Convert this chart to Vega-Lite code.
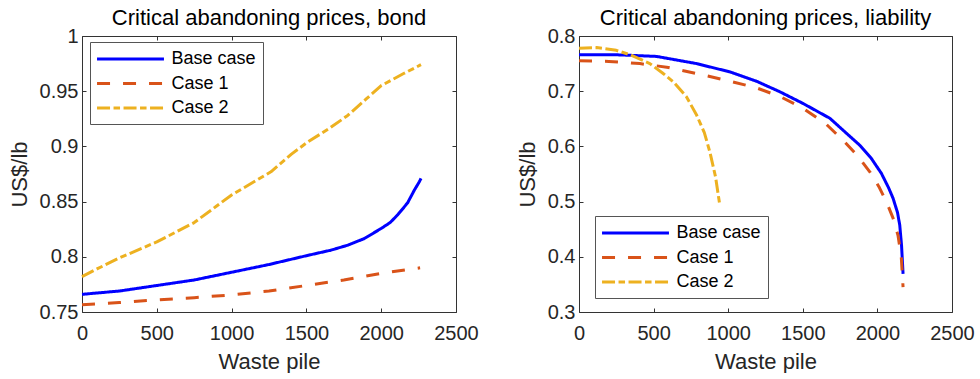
{
  "$schema": "https://vega.github.io/schema/vega-lite/v6.json",
  "padding": {"left": 7, "top": 6, "right": 5, "bottom": 0},
  "spacing": 36,
  "config": {
    "font": "Liberation Sans",
    "view": {"stroke": "#333333", "strokeWidth": 1},
    "title": {"font": "Liberation Sans", "fontSize": 22, "fontWeight": "normal", "color": "#000000", "anchor": "middle", "frame": "group", "offset": -4},
    "axis": {"grid": false, "domain": false, "tickSize": -4, "tickColor": "#333333", "tickWidth": 1, "labelFont": "Liberation Sans", "labelFontSize": 20, "labelColor": "#262626", "titleFont": "Liberation Sans", "titleFontSize": 22, "titleFontWeight": "normal", "titleColor": "#262626", "labelFlush": false, "labelOverlap": false},
    "legend": {"orient": "none", "title": null, "strokeColor": "#555555", "fillColor": "#ffffff", "padding": 7, "labelFont": "Liberation Sans", "labelFontSize": 18, "labelColor": "#000000", "symbolType": "M-4,0H4", "symbolSize": 280, "symbolStrokeWidth": 3, "symbolOffset": 23.5, "labelOffset": 31, "rowPadding": 5.5}
  },
  "resolve": {"scale": {"color": "independent", "strokeDash": "independent"}},
  "datasets": {
    "bond": [
      {"x": 0, "p": 0.766, "series": "Base case"},
      {"x": 250, "p": 0.769, "series": "Base case"},
      {"x": 500, "p": 0.774, "series": "Base case"},
      {"x": 750, "p": 0.779, "series": "Base case"},
      {"x": 1000, "p": 0.786, "series": "Base case"},
      {"x": 1250, "p": 0.793, "series": "Base case"},
      {"x": 1500, "p": 0.801, "series": "Base case"},
      {"x": 1664, "p": 0.806, "series": "Base case"},
      {"x": 1776, "p": 0.8105, "series": "Base case"},
      {"x": 1887, "p": 0.8165, "series": "Base case"},
      {"x": 1999, "p": 0.8256, "series": "Base case"},
      {"x": 2060, "p": 0.831, "series": "Base case"},
      {"x": 2110, "p": 0.838, "series": "Base case"},
      {"x": 2150, "p": 0.8445, "series": "Base case"},
      {"x": 2177, "p": 0.849, "series": "Base case"},
      {"x": 2220, "p": 0.86, "series": "Base case"},
      {"x": 2255, "p": 0.868, "series": "Base case"},
      {"x": 2266, "p": 0.871, "series": "Base case"},
      {"x": 0, "p": 0.7566, "series": "Case 1"},
      {"x": 250, "p": 0.7585, "series": "Case 1"},
      {"x": 500, "p": 0.761, "series": "Case 1"},
      {"x": 750, "p": 0.763, "series": "Case 1"},
      {"x": 1000, "p": 0.7655, "series": "Case 1"},
      {"x": 1250, "p": 0.769, "series": "Case 1"},
      {"x": 1500, "p": 0.774, "series": "Case 1"},
      {"x": 1750, "p": 0.779, "series": "Case 1"},
      {"x": 2000, "p": 0.785, "series": "Case 1"},
      {"x": 2260, "p": 0.79, "series": "Case 1"},
      {"x": 0, "p": 0.782, "series": "Case 2"},
      {"x": 100, "p": 0.789, "series": "Case 2"},
      {"x": 250, "p": 0.799, "series": "Case 2"},
      {"x": 500, "p": 0.8135, "series": "Case 2"},
      {"x": 750, "p": 0.831, "series": "Case 2"},
      {"x": 900, "p": 0.846, "series": "Case 2"},
      {"x": 1000, "p": 0.856, "series": "Case 2"},
      {"x": 1263, "p": 0.877, "series": "Case 2"},
      {"x": 1400, "p": 0.893, "series": "Case 2"},
      {"x": 1509, "p": 0.904, "series": "Case 2"},
      {"x": 1650, "p": 0.916, "series": "Case 2"},
      {"x": 1776, "p": 0.928, "series": "Case 2"},
      {"x": 1900, "p": 0.943, "series": "Case 2"},
      {"x": 2000, "p": 0.955, "series": "Case 2"},
      {"x": 2150, "p": 0.966, "series": "Case 2"},
      {"x": 2266, "p": 0.974, "series": "Case 2"}
    ],
    "liability": [
      {"x": 0, "p": 0.766, "series": "Base case"},
      {"x": 250, "p": 0.766, "series": "Base case"},
      {"x": 520, "p": 0.763, "series": "Base case"},
      {"x": 788, "p": 0.75, "series": "Base case"},
      {"x": 1011, "p": 0.735, "series": "Base case"},
      {"x": 1190, "p": 0.718, "series": "Base case"},
      {"x": 1346, "p": 0.699, "series": "Base case"},
      {"x": 1500, "p": 0.678, "series": "Base case"},
      {"x": 1681, "p": 0.651, "series": "Base case"},
      {"x": 1800, "p": 0.622, "series": "Base case"},
      {"x": 1882, "p": 0.602, "series": "Base case"},
      {"x": 1960, "p": 0.578, "series": "Base case"},
      {"x": 2027, "p": 0.551, "series": "Base case"},
      {"x": 2075, "p": 0.525, "series": "Base case"},
      {"x": 2105, "p": 0.506, "series": "Base case"},
      {"x": 2135, "p": 0.48, "series": "Base case"},
      {"x": 2150, "p": 0.457, "series": "Base case"},
      {"x": 2162, "p": 0.42, "series": "Base case"},
      {"x": 2172, "p": 0.369, "series": "Base case"},
      {"x": 0, "p": 0.755, "series": "Case 1"},
      {"x": 200, "p": 0.754, "series": "Case 1"},
      {"x": 408, "p": 0.75, "series": "Case 1"},
      {"x": 600, "p": 0.743, "series": "Case 1"},
      {"x": 788, "p": 0.732, "series": "Case 1"},
      {"x": 1000, "p": 0.719, "series": "Case 1"},
      {"x": 1190, "p": 0.706, "series": "Case 1"},
      {"x": 1350, "p": 0.69, "series": "Case 1"},
      {"x": 1502, "p": 0.669, "series": "Case 1"},
      {"x": 1650, "p": 0.642, "series": "Case 1"},
      {"x": 1770, "p": 0.611, "series": "Case 1"},
      {"x": 1870, "p": 0.582, "series": "Case 1"},
      {"x": 1949, "p": 0.554, "series": "Case 1"},
      {"x": 2010, "p": 0.527, "series": "Case 1"},
      {"x": 2060, "p": 0.5, "series": "Case 1"},
      {"x": 2105, "p": 0.47, "series": "Case 1"},
      {"x": 2138, "p": 0.439, "series": "Case 1"},
      {"x": 2160, "p": 0.4, "series": "Case 1"},
      {"x": 2172, "p": 0.345, "series": "Case 1"},
      {"x": 0, "p": 0.778, "series": "Case 2"},
      {"x": 118, "p": 0.779, "series": "Case 2"},
      {"x": 250, "p": 0.774, "series": "Case 2"},
      {"x": 342, "p": 0.766, "series": "Case 2"},
      {"x": 475, "p": 0.75, "series": "Case 2"},
      {"x": 560, "p": 0.733, "series": "Case 2"},
      {"x": 632, "p": 0.717, "series": "Case 2"},
      {"x": 720, "p": 0.69, "series": "Case 2"},
      {"x": 788, "p": 0.657, "series": "Case 2"},
      {"x": 840, "p": 0.625, "series": "Case 2"},
      {"x": 877, "p": 0.59, "series": "Case 2"},
      {"x": 915, "p": 0.545, "series": "Case 2"},
      {"x": 944, "p": 0.493, "series": "Case 2"}
    ]
  },
  "hconcat": [
    {
      "width": 374,
      "height": 276,
      "title": "Critical abandoning prices, bond",
      "data": {"name": "bond"},
      "resolve": {"scale": {"x": "independent", "y": "independent"}},
      "layer": [
        {
          "mark": {"type": "line", "strokeWidth": 3, "strokeCap": "butt", "strokeJoin": "round"},
          "encoding": {
            "x": {"field": "x", "type": "quantitative", "title": "Waste pile", "scale": {"domain": [0, 2500], "nice": false}, "axis": {"values": [0, 500, 1000, 1500, 2000, 2500], "format": "d", "labelPadding": 15, "titlePadding": 8}},
            "y": {"field": "p", "type": "quantitative", "title": "US$/lb", "scale": {"domain": [0.75, 1], "nice": false, "zero": false}, "axis": {"values": [0.75, 0.8, 0.85, 0.9, 0.95, 1], "format": "~g", "labelPadding": 8, "titlePadding": 8}},
            "color": {"field": "series", "type": "nominal", "scale": {"domain": ["Base case", "Case 1", "Case 2"], "range": ["#0000FF", "#D95319", "#EDB120"]}, "legend": {"legendX": 8, "legendY": 6}},
            "strokeDash": {"field": "series", "type": "nominal", "scale": {"domain": ["Base case", "Case 1", "Case 2"], "range": [[1, 0], [13, 13], [13, 3.5, 6.5, 3.5]]}, "legend": {"legendX": 8, "legendY": 6}}
          }
        },
        {
          "mark": {"type": "line", "strokeOpacity": 0},
          "encoding": {
            "x": {"field": "x", "type": "quantitative", "scale": {"domain": [0, 2500], "nice": false}, "axis": {"orient": "top", "values": [0, 500, 1000, 1500, 2000, 2500], "labels": false, "title": null}},
            "y": {"field": "p", "type": "quantitative", "scale": {"domain": [0.75, 1], "nice": false, "zero": false}, "axis": {"orient": "right", "values": [0.75, 0.8, 0.85, 0.9, 0.95, 1], "labels": false, "title": null}},
            "detail": {"field": "series"}
          }
        }
      ]
    },
    {
      "width": 373,
      "height": 276,
      "title": "Critical abandoning prices, liability",
      "data": {"name": "liability"},
      "resolve": {"scale": {"x": "independent", "y": "independent"}},
      "layer": [
        {
          "mark": {"type": "line", "strokeWidth": 3, "strokeCap": "butt", "strokeJoin": "round"},
          "encoding": {
            "x": {"field": "x", "type": "quantitative", "title": "Waste pile", "scale": {"domain": [0, 2500], "nice": false}, "axis": {"values": [0, 500, 1000, 1500, 2000, 2500], "format": "d", "labelPadding": 15, "titlePadding": 8}},
            "y": {"field": "p", "type": "quantitative", "title": "US$/lb", "scale": {"domain": [0.3, 0.8], "nice": false, "zero": false}, "axis": {"values": [0.3, 0.4, 0.5, 0.6, 0.7, 0.8], "format": "~g", "labelPadding": 8, "titlePadding": 8}},
            "color": {"field": "series", "type": "nominal", "scale": {"domain": ["Base case", "Case 1", "Case 2"], "range": ["#0000FF", "#D95319", "#EDB120"]}, "legend": {"legendX": 16, "legendY": 180}},
            "strokeDash": {"field": "series", "type": "nominal", "scale": {"domain": ["Base case", "Case 1", "Case 2"], "range": [[1, 0], [13, 13], [13, 3.5, 6.5, 3.5]]}, "legend": {"legendX": 16, "legendY": 180}}
          }
        },
        {
          "mark": {"type": "line", "strokeOpacity": 0},
          "encoding": {
            "x": {"field": "x", "type": "quantitative", "scale": {"domain": [0, 2500], "nice": false}, "axis": {"orient": "top", "values": [0, 500, 1000, 1500, 2000, 2500], "labels": false, "title": null}},
            "y": {"field": "p", "type": "quantitative", "scale": {"domain": [0.3, 0.8], "nice": false, "zero": false}, "axis": {"orient": "right", "values": [0.3, 0.4, 0.5, 0.6, 0.7, 0.8], "labels": false, "title": null}},
            "detail": {"field": "series"}
          }
        }
      ]
    }
  ]
}
